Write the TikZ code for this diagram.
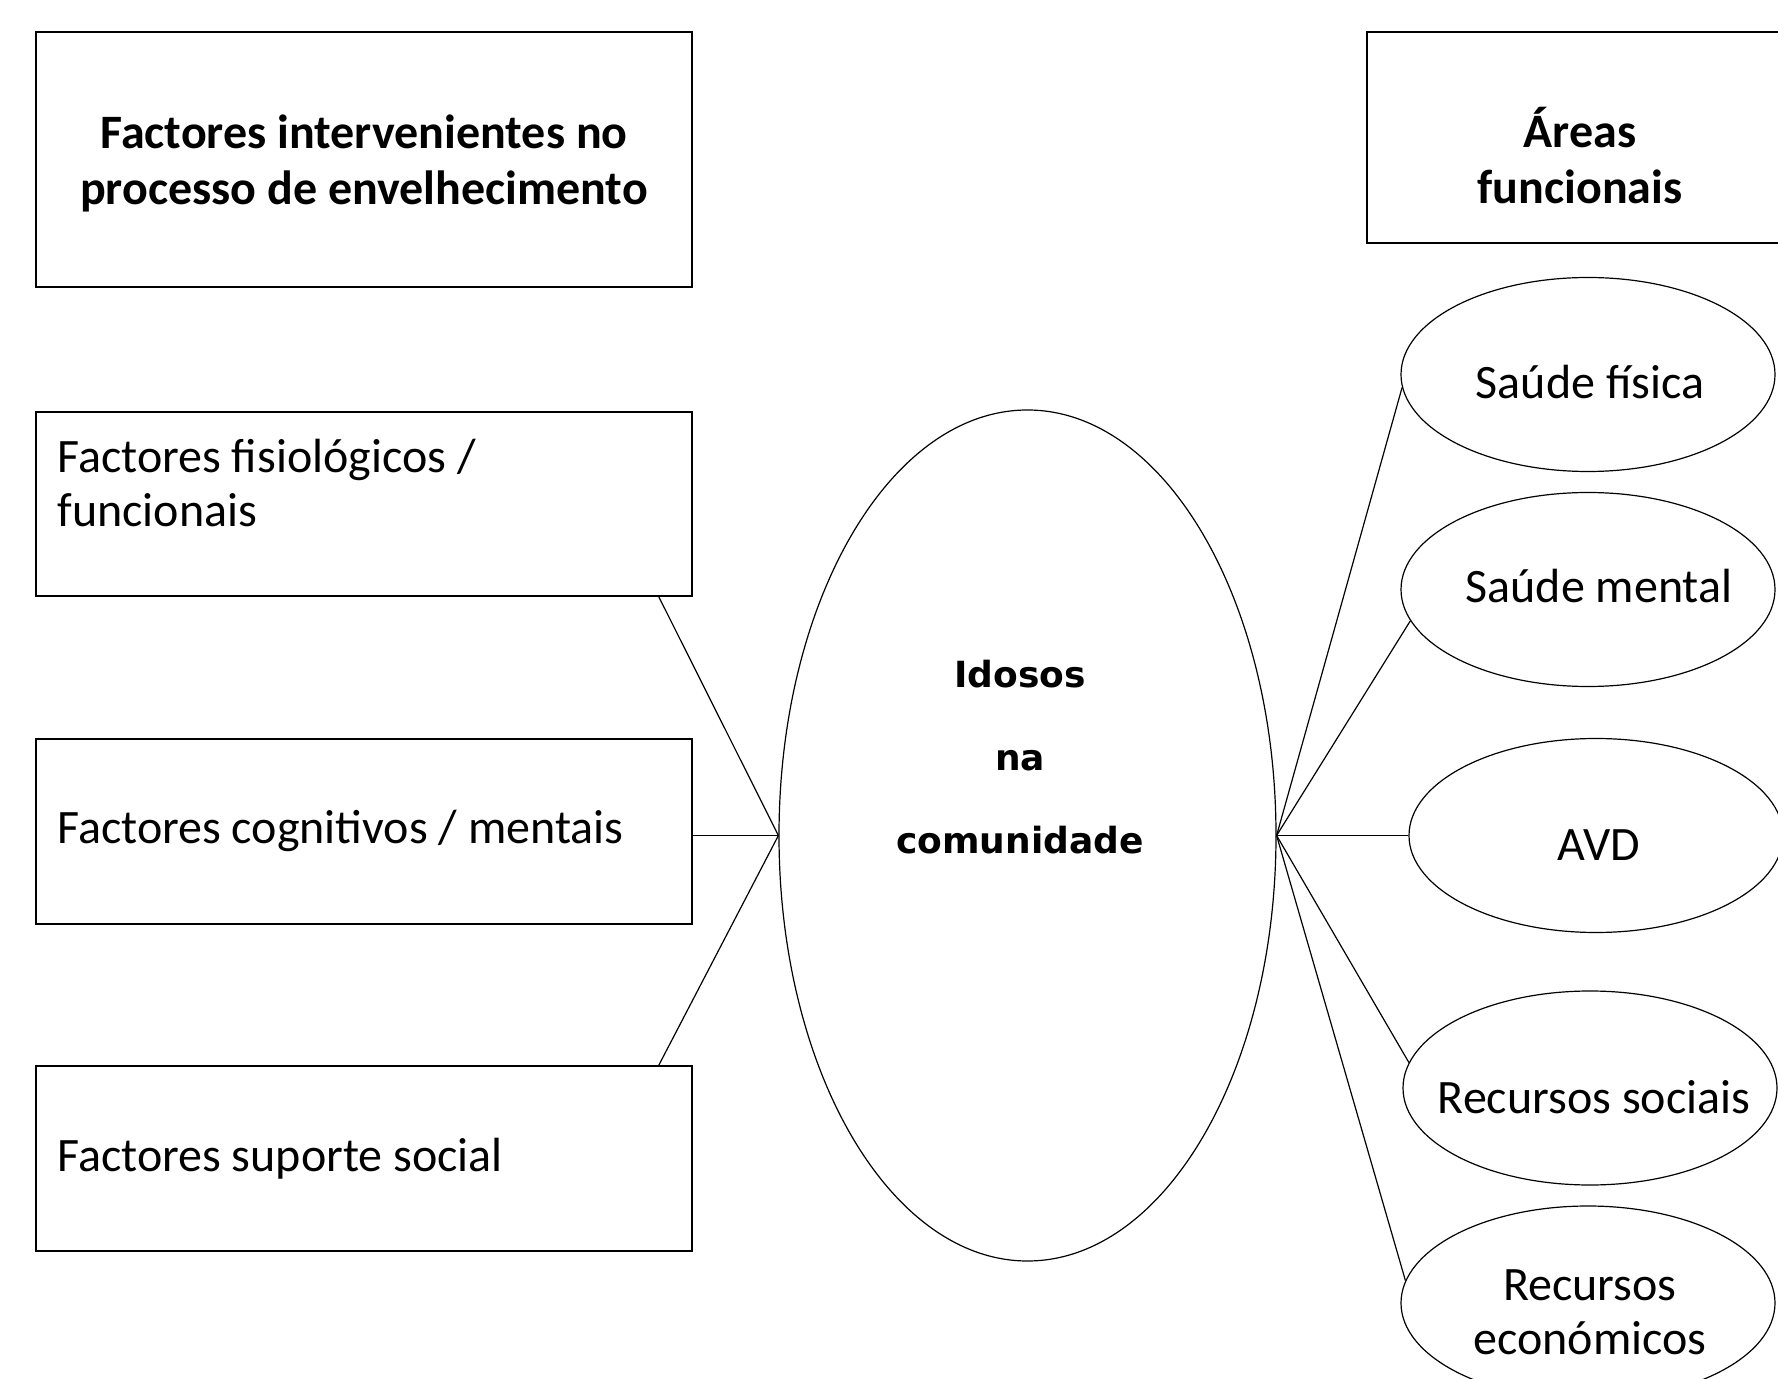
\documentclass[tikz,border=0pt]{standalone}
\usepackage{fontspec}
\setmainfont{Carlito}
\newfontfamily\idfont{DejaVu Sans}
\usetikzlibrary{shapes.geometric}
\tikzset{
  box/.style={draw, rectangle, line width=0.8pt, inner sep=0pt},
  oval/.style={draw, ellipse, line width=0.6pt, inner sep=0pt},
  lbl/.style={inner sep=0pt, font=\fontsize{24}{27}\selectfont, align=left},
  ttl/.style={inner sep=0pt, font=\fontsize{24}{28.3}\selectfont\bfseries, align=center},
  ctr/.style={inner sep=0pt, font=\fontsize{24}{27}\selectfont, align=center},
  conn/.style={line width=0.6pt}
}
\begin{document}
\begin{tikzpicture}[x=0.5pt,y=-0.5pt]
\fill[white] (0,0) rectangle (1778,1379);
\useasboundingbox (0,0) rectangle (1778,1379);

% left boxes
\node[box, minimum width=328pt, minimum height=127.5pt] (t1) at (364,159.5) {};
\node[ttl] (t1t) at (364,163.5) {Factores intervenientes no\\processo de envelhecimento};

\node[box, minimum width=328pt, minimum height=92pt] (f1) at (364,504) {};
\node[lbl, anchor=west] (f1t) at (57,483) {Factores fisiológicos /\\funcionais};

\node[box, minimum width=328pt, minimum height=92.5pt] (f2) at (364,831.5) {};
\node[lbl, anchor=west] (f2t) at (57,831) {Factores cognitivos / mentais};

\node[box, minimum width=328pt, minimum height=92.5pt] (f3) at (364,1158.5) {};
\node[lbl, anchor=west] (f3t) at (57,1159) {Factores suporte social};

% right title box
\node[box, minimum width=213pt, minimum height=105.5pt] (t2) at (1580,137.5) {};
\node[ttl] (t2t) at (1580,155.5) {Áreas\\funcionais};

% central ellipse
\node[oval, minimum width=248.5pt, minimum height=425.5pt] (big) at (1027.5,835.5) {};
\node[inner sep=0pt, align=center, font=\idfont\bfseries\fontsize{18}{41.5}\selectfont] (bigt) at (1020,757) {Idosos\\na\\comunidade};

% right ellipses
\node[oval, minimum width=187pt, minimum height=97pt] (sf) at (1588,374.5) {};
\node[ctr] (sft) at (1590,382) {Saúde física};
\node[oval, minimum width=187pt, minimum height=97pt] (sm) at (1588,589.5) {};
\node[ctr] (smt) at (1599,586) {Saúde mental};
\node[oval, minimum width=187pt, minimum height=97pt] (avd) at (1596,835.5) {};
\node[ctr] (avdt) at (1599,845) {AVD};
\node[oval, minimum width=187pt, minimum height=97pt] (rs) at (1590,1088) {};
\node[ctr] (rst) at (1594,1097) {Recursos sociais};
\node[oval, minimum width=187pt, minimum height=97pt] (re) at (1588,1303) {};
\node[ctr] (ret) at (1590,1312) {Recursos\\económicos};

% connectors left
\draw[conn] ([xshift=-17pt]f1.south east) -- (big.west);
\draw[conn] (f2.east |- big.west) -- (big.west);
\draw[conn] ([xshift=-17pt]f3.north east) -- (big.west);

% connectors right
\draw[conn] (big.east) -- (sf.184);
\draw[conn] (big.east) -- (sm.190);
\draw[conn] (big.east) -- (avd.west);
\draw[conn] (big.east) -- (rs.172.7);
\draw[conn] (big.east) -- (re.173.6);
\end{tikzpicture}
\end{document}
